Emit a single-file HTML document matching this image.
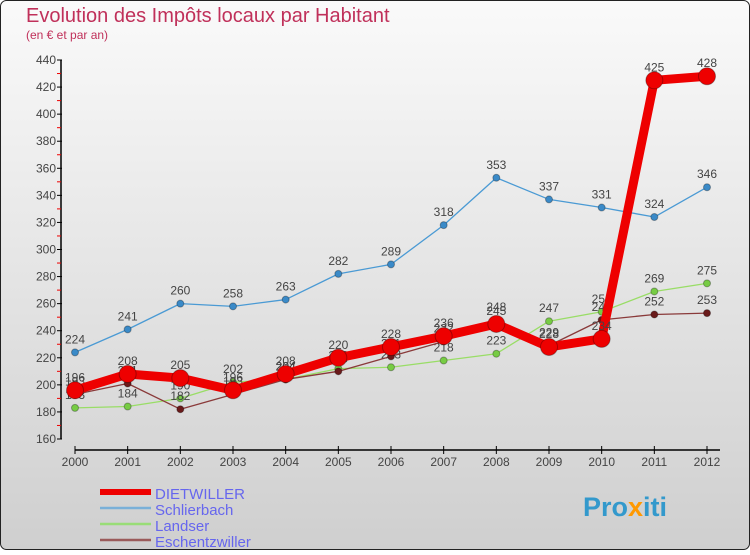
<!DOCTYPE html>
<html><head><meta charset="utf-8"><style>
body{margin:0;width:750px;height:550px;overflow:hidden;font-family:"Liberation Sans",sans-serif}
</style></head><body>
<svg id="c" width="750" height="550" xmlns="http://www.w3.org/2000/svg">
<defs><linearGradient id="bg" x1="0" y1="0" x2="0" y2="1"><stop offset="0" stop-color="#fafafa"/><stop offset="1" stop-color="#cfcfcf"/></linearGradient></defs>
<rect x="0.5" y="0.5" width="749" height="549" rx="6" fill="url(#bg)" stroke="#222"/>
<text x="26" y="22" font-size="20" fill="#c0305a">Evolution des Impôts locaux par Habitant</text>
<text x="26" y="39" font-size="12" fill="#c0305a">(en € et par an)</text>
<g id="axes"></g><g id="series"></g><g id="legend"></g>
<text x="583" y="516" font-size="27" font-weight="bold" fill="#3399cc">Pro<tspan fill="#ff9900">x</tspan><tspan fill="#3399cc">iti</tspan></text>
</svg>
<script>
const years=[2000,2001,2002,2003,2004,2005,2006,2007,2008,2009,2010,2011,2012];
const yTicks=[160,180,200,220,240,260,280,300,320,340,360,380,400,420,440];
const dietwiller=[196,208,205,196,208,220,228,236,245,228,234,425,428];
const schlierbach=[224,241,260,258,263,282,289,318,353,337,331,324,346];
const landser=[183,184,190,202,204,212,213,218,223,247,254,269,275];
const eschentzwiller=[193,201,182,193,204,210,221,232,248,229,248,252,253];
const NS="http://www.w3.org/2000/svg";
const X=i=>75+i*(707-75)/12;
const Y=v=>439-(v-160)*(439-60)/280;
function mk(t,a,p){const e=document.createElementNS(NS,t);for(const k in a)e.setAttribute(k,a[k]);p.appendChild(e);return e;}
const ax=document.getElementById('axes');
const ya=mk('line',{x1:61,y1:60,x2:61,y2:439,stroke:'#000','stroke-width':1.5},ax);


yTicks.forEach(v=>{
  mk('line',{x1:57,y1:Y(v),x2:62,y2:Y(v),stroke:'#000'},ax);
  if(v<440)mk('line',{x1:57,y1:Y(v+10),x2:61,y2:Y(v+10),stroke:'#e00'},ax);
  const t=mk('text',{x:56,y:Y(v)+4,'font-size':12,fill:'#444','text-anchor':'end'},ax);t.textContent=v;
  
  
});
const xa=mk('line',{x1:75,y1:450,x2:720,y2:450,stroke:'#000','stroke-width':1.5},ax);


years.forEach((y,i)=>{
  mk('line',{x1:X(i),y1:446,x2:X(i),y2:454,stroke:'#000'},ax);
  const t=mk('text',{x:X(i),y:466,'font-size':12,fill:'#444','text-anchor':'middle'},ax);t.textContent=y;
  
  
});
const sg=document.getElementById('series');
const defs=[
 {n:'schlierbach',d:schlierbach,c:'#4a9ad4',w:1.3,r:3.5,f:'#3a8ac8'},
 {n:'landser',d:landser,c:'#99dd66',w:1.3,r:3.5,f:'#77cc44'},
 {n:'eschentzwiller',d:eschentzwiller,c:'#8a3a3a',w:1.3,r:3.5,f:'#6a1a1a'},
 {n:'dietwiller',d:dietwiller,c:'#ee0000',w:9,r:8.5,f:'#ee0000'}];
defs.forEach(s=>{
  const g=mk('g',{},sg);
  
  
  const p=mk('polyline',{points:s.d.map((v,i)=>X(i)+','+Y(v)).join(' '),fill:'none',stroke:s.c,'stroke-width':s.w,'stroke-linejoin':'round'},g);
  
  
  s.d.forEach((v,i)=>{
    const c=mk('circle',{cx:X(i),cy:Y(v),r:s.r,fill:s.f,stroke:'rgba(0,0,0,0.3)'},g);
    
    
    const t=mk('text',{x:X(i),y:Y(v)-9,'font-size':12,fill:'#444','text-anchor':'middle'},g);t.textContent=v;
    
    
  });
});
const lg=document.getElementById('legend');
[['DIETWILLER','#ee0000',6],['Schlierbach','#7ab0d8',2.5],['Landser','#99dd77',2.5],['Eschentzwiller','#9a5a5a',2.5]].forEach((e,i)=>{
  const y=492+i*16;
  const l=mk('line',{x1:100,y1:y,x2:151,y2:y,stroke:e[1],'stroke-width':e[2]},lg);
  
  
  const t=mk('text',{x:155,y:y+7,'font-size':15,fill:'#6666ee'},lg);t.textContent=e[0];
  
  
});
</script>
</body></html>
